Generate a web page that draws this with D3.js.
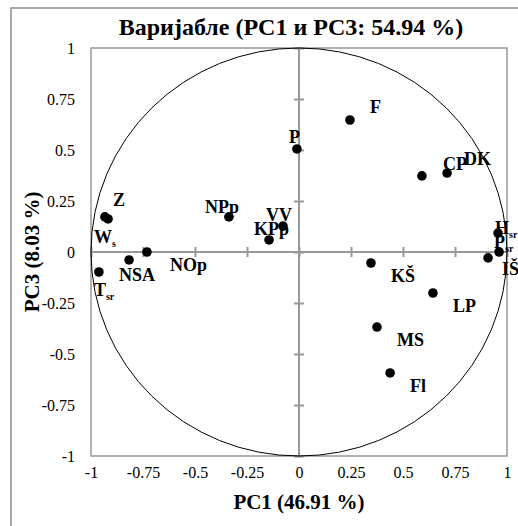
<!DOCTYPE html>
<html>
<head>
<meta charset="utf-8">
<script src="https://cdn.jsdelivr.net/npm/d3@7"></script>
<style>
  body { margin: 0; background: #fff; }
  text { font-family: "Liberation Serif", "Times New Roman", serif; }
</style>
</head>
<body>
<div id="chart"></div>
<script>
// variable names, subscripts and loadings on PC1 / PC3
const names = ["F", "CP", "DK", "H", "P", "IŠ", "KŠ", "LP", "MS", "Fl", "P", "NPp", "VV", "KPp", "Z", "W", "NOp", "NSA", "T"];
const subs  = ["", "", "", "sr", "sr", "", "", "", "", "", "", "", "", "", "", "s", "", "", "sr"];
const pc1 = [0.245, 0.591, 0.712, 0.957, 0.962, 0.909, 0.346, 0.644, 0.375, 0.438, -0.010, -0.337, -0.077, -0.144, -0.933, -0.918, -0.731, -0.817, -0.962];
const pc3 = [0.647, 0.373, 0.387, 0.093, 0.000, -0.029, -0.054, -0.201, -0.368, -0.593, 0.505, 0.172, 0.127, 0.059, 0.172, 0.162, 0.000, -0.039, -0.098];
const ticks = [-1, -0.75, -0.5, -0.25, 0, 0.25, 0.5, 0.75, 1];

// label offsets from the point (px)
const labelDx = [20, 21, 17, -3, -5, 14, 20, 20, 20, 20, -8, -24, -17, -15, 8, -14, 23, -10, -5];
const labelDy = [-7, -6, -8, 1, -4, 17, 19, 19, 19, 19, -6, -4, -5, -5, -11, 24, 19, 21, 24];

const W = 518, H = 526;
const plot = {left: 91, right: 507, top: 48, bottom: 456};

const x = d3.scaleLinear().domain([-1, 1]).range([plot.left, plot.right]);
const y = d3.scaleLinear().domain([-1, 1]).range([plot.bottom, plot.top]);

const svg = d3.select("#chart")
  .append("svg")
    .attr("width", W)
    .attr("height", H);

// outer frame
svg.append("rect")
  .attr("x", 11).attr("y", 8)
  .attr("width", 540).attr("height", 560)
  .attr("fill", "none")
  .attr("stroke", "#8c8c8c")
  .attr("stroke-width", 1.5);

// plot border
svg.append("rect")
  .attr("x", plot.left).attr("y", plot.top)
  .attr("width", plot.right - plot.left).attr("height", plot.bottom - plot.top)
  .attr("fill", "none")
  .attr("stroke", "#999")
  .attr("stroke-width", 1.5);

// zero axes with crossing ticks
const fmt = d => String(d);
svg.append("line")
  .attr("x1", plot.left).attr("x2", plot.right)
  .attr("y1", y(0)).attr("y2", y(0))
  .attr("stroke", "#999").attr("stroke-width", 2);
svg.append("line")
  .attr("x1", x(0)).attr("x2", x(0))
  .attr("y1", plot.top).attr("y2", plot.bottom)
  .attr("stroke", "#999").attr("stroke-width", 2);

const hTicks = svg.append("g")
  .attr("transform", "translate(0," + (y(0) - 5) + ")")
  .call(d3.axisBottom(x).tickValues(ticks).tickSize(10).tickFormat(""));
const vTicks = svg.append("g")
  .attr("transform", "translate(" + (x(0) + 5) + ",0)")
  .call(d3.axisLeft(y).tickValues(ticks).tickSize(10).tickFormat(""));
[hTicks, vTicks].forEach(g => {
  g.select(".domain").remove();
  g.selectAll("line").attr("stroke", "#999").attr("stroke-width", 2);
});

// tick labels
const xLab = svg.append("g")
  .attr("transform", "translate(0," + plot.bottom + ")")
  .call(d3.axisBottom(x).tickValues(ticks).tickSize(0).tickPadding(22).tickFormat(fmt));
const yLab = svg.append("g")
  .attr("transform", "translate(" + plot.left + ",0)")
  .call(d3.axisLeft(y).tickValues(ticks).tickSize(0).tickPadding(16).tickFormat(fmt));
[xLab, yLab].forEach(g => {
  g.select(".domain").remove();
  g.selectAll("text")
    .style("font-family", "'Liberation Serif', serif")
    .style("font-size", "16px")
    .attr("fill", "#000");
});
xLab.selectAll("text").attr("dy", 0).attr("y", 22);

// correlation circle
svg.append("ellipse")
  .attr("cx", x(0)).attr("cy", y(0))
  .attr("rx", x(1) - x(0)).attr("ry", y(0) - y(1))
  .attr("fill", "none")
  .attr("stroke", "#000")
  .attr("stroke-width", 1);

// points
const idx = d3.range(names.length);
svg.selectAll("circle.pt")
  .data(idx)
  .enter()
  .append("circle")
    .attr("class", "pt")
    .attr("cx", i => x(pc1[i]))
    .attr("cy", i => y(pc3[i]))
    .attr("r", 4.8)
    .attr("fill", "#000");

// labels
const lbl = svg.selectAll("text.lbl")
  .data(idx)
  .enter()
  .append("text")
    .attr("class", "lbl")
    .attr("x", i => x(pc1[i]) + labelDx[i])
    .attr("y", i => y(pc3[i]) + labelDy[i])
    .style("font-size", "18px")
    .style("font-weight", "bold");
lbl.append("tspan").text(i => names[i]);
lbl.append("tspan")
  .attr("dy", 4)
  .style("font-size", "10px")
  .text(i => subs[i]);

// title and axis titles
svg.append("text")
  .attr("x", 291).attr("y", 35)
  .attr("text-anchor", "middle")
  .style("font-size", "24px").style("font-weight", "bold")
  .text("Варијабле (PC1 и PC3: 54.94 %)");

svg.append("text")
  .attr("x", x(0)).attr("y", 509)
  .attr("text-anchor", "middle")
  .style("font-size", "21px").style("font-weight", "bold")
  .text("PC1 (46.91 %)");

svg.append("text")
  .attr("transform", "translate(39," + y(0) + ") rotate(-90)")
  .attr("text-anchor", "middle")
  .style("font-size", "21px").style("font-weight", "bold")
  .text("PC3 (8.03 %)");
</script>
</body>
</html>
